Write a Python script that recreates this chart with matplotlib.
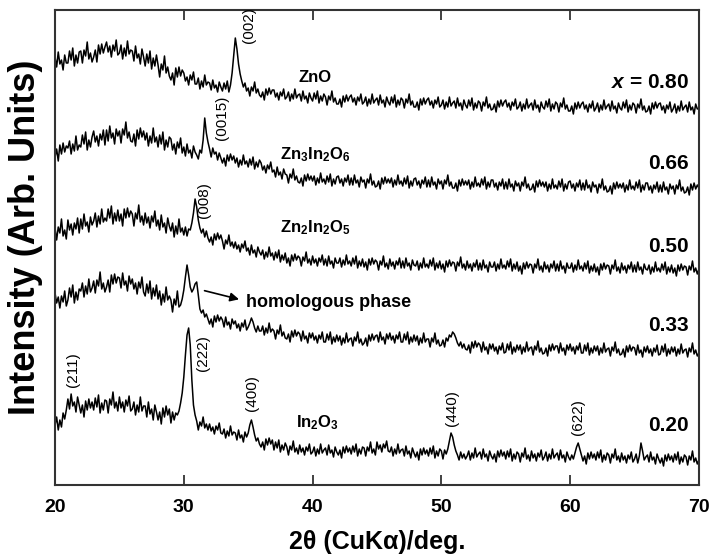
import numpy as np
import matplotlib.pyplot as plt

plt.rcParams['font.family'] = ['Liberation Sans', 'DejaVu Sans']
plt.rcParams['mathtext.fontset'] = 'custom'
plt.rcParams['mathtext.rm'] = 'Liberation Sans:bold'
plt.rcParams['mathtext.it'] = 'Liberation Sans:bold:italic'

# stacked XRD intensities (arb. units), 0.125 deg steps from 20 to 70 deg
x080 = [
    428, 418, 433, 421, 425, 415, 430, 422,
    422, 434, 425, 437, 419, 430, 422, 433,
    434, 422, 435, 429, 443, 426, 432, 423,
    428, 435, 423, 440, 431, 441, 432, 438,
    443, 433, 439, 428, 440, 434, 445, 430,
    432, 440, 426, 437, 429, 444, 431, 435,
    434, 424, 439, 427, 431, 421, 436, 428,
    419, 431, 422, 434, 416, 427, 419, 430,
    420, 408, 421, 415, 429, 412, 418, 409,
    405, 412, 400, 417, 408, 418, 409, 415,
    412, 404, 408, 400, 410, 405, 413, 401,
    401, 407, 396, 404, 398, 410, 400, 403,
    402, 395, 405, 397, 400, 393, 403, 398,
    394, 402, 396, 404, 393, 400, 412, 430,
    447, 436, 421, 411, 404, 398, 402, 394,
    397, 389, 398, 394, 403, 392, 396, 390,
    388, 393, 385, 396, 390, 397, 391, 395,
    395, 388, 392, 385, 393, 389, 396, 386,
    388, 393, 384, 391, 386, 396, 387, 390,
    391, 384, 394, 386, 389, 382, 392, 387,
    384, 392, 386, 394, 382, 389, 384, 391,
    388, 380, 389, 385, 394, 383, 387, 381,
    381, 386, 378, 389, 383, 390, 384, 388,
    390, 383, 387, 380, 388, 384, 391, 381,
    383, 388, 379, 386, 381, 391, 382, 385,
    387, 380, 390, 382, 385, 378, 388, 383,
    380, 388, 382, 390, 378, 385, 380, 387,
    385, 377, 386, 382, 391, 380, 384, 378,
    378, 383, 375, 386, 380, 387, 381, 385,
    387, 380, 384, 377, 385, 381, 388, 378,
    380, 385, 376, 383, 378, 388, 379, 382,
    384, 377, 387, 379, 382, 375, 385, 380,
    377, 385, 379, 387, 375, 382, 377, 384,
    382, 374, 383, 379, 388, 377, 381, 375,
    376, 381, 373, 384, 378, 385, 379, 383,
    385, 378, 382, 375, 383, 379, 386, 376,
    378, 383, 374, 381, 376, 386, 377, 380,
    382, 375, 385, 377, 380, 373, 383, 378,
    376, 384, 378, 386, 374, 381, 376, 383,
    381, 373, 382, 378, 387, 376, 380, 374,
    374, 379, 371, 382, 376, 383, 377, 381,
    383, 376, 380, 373, 381, 377, 384, 374,
    377, 382, 373, 380, 375, 385, 376, 379,
    381, 374, 384, 376, 379, 372, 382, 377,
    375, 383, 377, 385, 373, 380, 375, 382,
    380, 372, 381, 377, 386, 375, 379, 373,
    374, 379, 371, 382, 376, 383, 377, 381,
    382, 375, 379, 372, 380, 376, 383, 373,
    376, 381, 372, 379, 374, 384, 375, 378,
    380, 373, 383, 375, 378, 371, 381, 376,
    377,
]
x066 = [
    328, 336, 324, 340, 331, 342, 333, 339,
    337, 344, 331, 341, 334, 349, 335, 340,
    338, 350, 341, 353, 335, 345, 338, 348,
    354, 343, 349, 339, 351, 345, 355, 340,
    355, 344, 359, 347, 352, 341, 356, 349,
    354, 342, 356, 350, 363, 347, 353, 344,
    343, 351, 339, 355, 346, 357, 348, 354,
    345, 352, 339, 349, 342, 357, 343, 348,
    338, 350, 341, 353, 335, 345, 338, 348,
    346, 335, 341, 331, 343, 337, 347, 332,
    338, 329, 341, 332, 335, 327, 339, 333,
    330, 326, 335, 332, 345, 367, 352, 343,
    336, 328, 337, 331, 333, 325, 332, 327,
    322, 327, 319, 330, 324, 331, 325, 329,
    322, 327, 318, 325, 320, 330, 321, 324,
    318, 326, 320, 328, 316, 323, 318, 325,
    322, 315, 319, 312, 320, 316, 323, 313,
    315, 308, 318, 310, 313, 306, 316, 311,
    310, 302, 311, 307, 316, 305, 309, 303,
    302, 307, 299, 310, 304, 311, 305, 309,
    304, 309, 300, 307, 302, 312, 303, 306,
    301, 309, 303, 311, 299, 306, 301, 308,
    309, 302, 306, 299, 307, 303, 310, 300,
    307, 300, 310, 302, 305, 298, 308, 303,
    305, 297, 306, 302, 311, 300, 304, 298,
    299, 304, 296, 307, 301, 308, 302, 306,
    302, 307, 298, 305, 300, 310, 301, 304,
    299, 307, 301, 309, 297, 304, 299, 306,
    307, 300, 304, 297, 305, 301, 308, 298,
    305, 298, 308, 300, 303, 296, 306, 301,
    304, 296, 305, 301, 310, 299, 303, 297,
    297, 302, 294, 305, 299, 306, 300, 304,
    300, 305, 296, 303, 298, 308, 299, 302,
    298, 306, 300, 308, 296, 303, 298, 305,
    305, 298, 302, 295, 303, 299, 306, 296,
    303, 296, 306, 298, 301, 294, 304, 299,
    302, 294, 303, 299, 308, 297, 301, 295,
    296, 301, 293, 304, 298, 305, 299, 303,
    298, 303, 294, 301, 296, 306, 297, 300,
    296, 304, 298, 306, 294, 301, 296, 303,
    304, 297, 301, 294, 302, 298, 305, 295,
    302, 295, 305, 297, 300, 293, 303, 298,
    300, 292, 301, 297, 306, 295, 299, 293,
    294, 299, 291, 302, 296, 303, 297, 301,
    297, 302, 293, 300, 295, 305, 296, 299,
    295, 303, 297, 305, 293, 300, 295, 302,
    302, 295, 299, 292, 300, 296, 303, 293,
    300, 293, 303, 295, 298, 291, 301, 296,
    299, 291, 300, 296, 305, 294, 298, 292,
    293, 298, 290, 301, 295, 302, 296, 300,
    297,
]
x050 = [
    257, 245, 258, 252, 266, 249, 255, 246,
    265, 255, 261, 250, 262, 256, 267, 252,
    266, 256, 271, 259, 263, 253, 268, 260,
    264, 272, 258, 269, 261, 276, 263, 267,
    264, 276, 267, 279, 261, 272, 264, 275,
    264, 271, 259, 276, 267, 277, 268, 274,
    271, 259, 272, 266, 280, 263, 269, 260,
    272, 262, 268, 257, 269, 263, 274, 259,
    265, 255, 270, 258, 262, 252, 267, 259,
    254, 262, 248, 259, 251, 266, 253, 257,
    250, 258, 249, 256, 255, 262, 272, 286,
    278, 265, 257, 252, 256, 248, 254, 247,
    243, 248, 240, 251, 245, 252, 246, 250,
    244, 236, 245, 241, 250, 239, 243, 237,
    243, 236, 240, 233, 241, 237, 244, 234,
    237, 230, 240, 232, 235, 228, 238, 233,
    230, 235, 226, 233, 228, 238, 229, 232,
    225, 233, 227, 235, 223, 230, 225, 232,
    222, 227, 219, 230, 224, 231, 225, 229,
    227, 219, 228, 224, 233, 222, 226, 220,
    229, 222, 226, 219, 227, 223, 230, 220,
    226, 219, 229, 221, 224, 217, 227, 222,
    222, 227, 218, 225, 220, 230, 221, 224,
    219, 227, 221, 229, 217, 224, 219, 226,
    218, 223, 215, 226, 220, 227, 221, 225,
    223, 215, 224, 220, 229, 218, 222, 216,
    226, 219, 223, 216, 224, 220, 227, 217,
    224, 217, 227, 219, 222, 215, 225, 220,
    219, 224, 215, 222, 217, 227, 218, 221,
    217, 225, 219, 227, 215, 222, 217, 224,
    216, 221, 213, 224, 218, 225, 219, 223,
    222, 214, 223, 219, 228, 217, 221, 215,
    224, 217, 221, 214, 222, 218, 225, 215,
    222, 215, 225, 217, 220, 213, 223, 218,
    218, 223, 214, 221, 216, 226, 217, 220,
    216, 224, 218, 226, 214, 221, 216, 223,
    214, 219, 211, 222, 216, 223, 217, 221,
    220, 212, 221, 217, 226, 215, 219, 213,
    223, 216, 220, 213, 221, 217, 224, 214,
    221, 214, 224, 216, 219, 212, 222, 217,
    217, 222, 213, 220, 215, 225, 216, 219,
    214, 222, 216, 224, 212, 219, 214, 221,
    213, 218, 210, 221, 215, 222, 216, 220,
    219, 211, 220, 216, 225, 214, 218, 212,
    222, 215, 219, 212, 220, 216, 223, 213,
    220, 213, 223, 215, 218, 211, 221, 216,
    215, 220, 211, 218, 213, 223, 214, 217,
    213, 221, 215, 223, 211, 218, 213, 220,
    212, 217, 209, 220, 214, 221, 215, 219,
    218, 210, 219, 215, 224, 213, 217, 211,
    216,
]
x033 = [
    192, 182, 188, 177, 189, 183, 194, 179,
    185, 197, 188, 200, 182, 193, 185, 196,
    194, 202, 188, 199, 191, 206, 193, 197,
    204, 192, 205, 199, 213, 196, 202, 193,
    198, 205, 193, 210, 201, 211, 202, 208,
    207, 197, 212, 200, 204, 194, 209, 201,
    206, 196, 202, 191, 203, 197, 208, 193,
    189, 201, 192, 204, 186, 197, 189, 200,
    186, 194, 180, 191, 183, 198, 185, 189,
    185, 173, 186, 180, 194, 178, 180, 186,
    195, 208, 220, 210, 198, 193, 196, 201,
    203, 190, 176, 172, 175, 168, 171, 166,
    161, 166, 158, 169, 163, 170, 164, 168,
    165, 158, 168, 160, 163, 156, 166, 161,
    164, 157, 161, 154, 162, 158, 165, 155,
    158, 162, 167, 163, 157, 153, 159, 154,
    154, 159, 150, 157, 152, 162, 153, 156,
    154, 146, 155, 151, 160, 149, 153, 147,
    146, 151, 143, 154, 148, 155, 149, 153,
    151, 144, 154, 146, 149, 142, 152, 147,
    152, 145, 149, 142, 150, 146, 153, 143,
    143, 151, 145, 153, 141, 148, 143, 150,
    144, 149, 140, 147, 142, 152, 143, 146,
    147, 139, 148, 144, 153, 142, 146, 140,
    142, 147, 139, 150, 144, 151, 145, 149,
    150, 143, 153, 145, 148, 141, 151, 146,
    152, 145, 149, 142, 150, 146, 153, 143,
    143, 151, 145, 153, 141, 148, 143, 150,
    144, 149, 140, 147, 142, 152, 143, 146,
    146, 138, 147, 143, 152, 141, 145, 139,
    140, 145, 138, 147, 144, 150, 148, 153,
    151, 147, 142, 139, 143, 137, 141, 136,
    135, 140, 132, 143, 137, 144, 138, 142,
    140, 133, 143, 135, 138, 131, 141, 136,
    141, 134, 138, 131, 139, 135, 142, 132,
    133, 141, 135, 143, 131, 138, 133, 140,
    135, 140, 131, 138, 133, 143, 134, 137,
    138, 130, 139, 135, 144, 133, 137, 131,
    132, 137, 129, 140, 134, 141, 135, 139,
    139, 132, 142, 134, 137, 130, 140, 135,
    141, 134, 138, 131, 139, 135, 142, 132,
    132, 140, 134, 142, 130, 137, 132, 139,
    134, 139, 130, 137, 132, 142, 133, 136,
    137, 129, 138, 134, 143, 132, 136, 130,
    131, 136, 128, 139, 133, 140, 134, 138,
    137, 130, 140, 132, 135, 128, 138, 133,
    139, 132, 136, 129, 137, 133, 140, 130,
    131, 139, 133, 141, 129, 136, 131, 138,
    133, 138, 129, 136, 131, 141, 132, 135,
    136, 128, 137, 133, 142, 131, 135, 129,
    132,
]
x020 = [
    60, 68, 55, 65, 58, 72, 66, 75,
    86, 76, 91, 79, 83, 73, 88, 80,
    72, 80, 68, 84, 75, 86, 77, 83,
    75, 87, 78, 90, 72, 82, 75, 85,
    84, 72, 86, 80, 93, 77, 83, 74,
    88, 77, 83, 73, 85, 79, 89, 74,
    76, 83, 70, 80, 73, 88, 74, 79,
    79, 68, 83, 71, 76, 65, 80, 73,
    65, 73, 61, 77, 68, 79, 70, 76,
    62, 73, 65, 72, 70, 74, 82, 92,
    108, 130, 150, 157, 140, 105, 80, 70,
    64, 55, 63, 59, 68, 57, 61, 55,
    61, 54, 58, 51, 59, 55, 62, 52,
    51, 56, 47, 54, 49, 59, 50, 53,
    52, 45, 55, 47, 50, 43, 53, 48,
    52, 60, 65, 58, 50, 44, 47, 41,
    38, 43, 35, 46, 40, 47, 41, 45,
    35, 43, 37, 45, 33, 40, 35, 42,
    38, 30, 39, 35, 44, 33, 37, 31,
    40, 33, 37, 30, 38, 34, 41, 31,
    33, 38, 29, 36, 31, 41, 32, 35,
    37, 30, 40, 32, 35, 28, 38, 33,
    30, 35, 27, 38, 32, 39, 33, 37,
    31, 39, 33, 41, 29, 36, 31, 38,
    37, 29, 38, 34, 43, 32, 36, 30,
    43, 36, 40, 33, 41, 37, 44, 34,
    33, 38, 29, 36, 31, 41, 32, 35,
    36, 29, 39, 31, 34, 27, 37, 32,
    28, 33, 25, 36, 30, 37, 31, 35,
    29, 37, 31, 39, 27, 34, 29, 36,
    34, 26, 35, 31, 36, 44, 52, 48,
    40, 34, 30, 25, 33, 27, 31, 26,
    29, 34, 25, 32, 27, 37, 28, 31,
    33, 26, 36, 28, 31, 24, 34, 29,
    26, 31, 23, 34, 28, 35, 29, 33,
    26, 34, 28, 36, 24, 31, 26, 33,
    31, 23, 32, 28, 37, 26, 30, 24,
    34, 27, 31, 24, 32, 28, 35, 25,
    28, 33, 24, 31, 26, 36, 27, 30,
    32, 25, 35, 27, 30, 23, 33, 28,
    25, 30, 26, 32, 38, 42, 36, 30,
    24, 29, 21, 32, 26, 33, 27, 31,
    25, 33, 27, 35, 23, 30, 25, 32,
    30, 22, 31, 27, 36, 25, 29, 23,
    32, 25, 29, 22, 30, 26, 33, 23,
    26, 31, 22, 29, 42, 34, 25, 28,
    30, 23, 33, 25, 28, 21, 31, 26,
    22, 27, 19, 30, 24, 31, 25, 29,
    23, 31, 25, 33, 21, 28, 23, 30,
    28, 20, 29, 25, 34, 23, 27, 21,
    25,
]

patterns = [x080, x066, x050, x033, x020]
comp_labels = ['$x$ = 0.80', '0.66', '0.50', '0.33', '0.20']
comp_y = [403, 322, 239, 160, 59]

# reflection indices and phase names
hkl = [('(002)', 35.1, 460), ('(0015)', 33.0, 367), ('(008)', 31.6, 285),
       ('(211)', 21.4, 115), ('(222)', 31.5, 132), ('(400)', 35.3, 92),
       ('(440)', 50.8, 77), ('(622)', 60.6, 68)]
phases = [('ZnO', 40.2, 408), (r'$\mathrm{Zn_3In_2O_6}$', 40.2, 330),
          (r'$\mathrm{Zn_2In_2O_5}$', 40.2, 257), (r'$\mathrm{In_2O_3}$', 40.4, 62)]

fig = plt.figure(figsize=(7.11, 5.56), dpi=100)
ax = fig.add_axes([0.0774, 0.1277, 0.9056, 0.8543])

for y in patterns:
    ax.plot(np.linspace(20, 70, len(y)), y, color='black', linewidth=1.1)

for lab, yy in zip(comp_labels, comp_y):
    ax.text(69.2, yy, lab, ha='right', va='center', fontsize=15, fontweight='bold')

for lab, xx, yy in hkl:
    ax.text(xx, yy, lab, rotation=90, ha='center', va='center', fontsize=11)

for lab, xx, yy in phases:
    ax.text(xx, yy, lab, ha='center', va='center', fontsize=12, fontweight='bold')

ax.annotate('', xy=(34.5, 185), xytext=(31.4, 195),
            arrowprops=dict(arrowstyle='-|>', color='black', lw=1.2, mutation_scale=13))
ax.text(34.8, 183, 'homologous phase', ha='left', va='center', fontsize=13, fontweight='bold')

ax.set_xlim(20, 70)
ax.set_ylim(0, 475)
ax.set_xticks([20, 30, 40, 50, 60, 70])
ax.set_yticks([])
ax.tick_params(axis='x', direction='in', top=True, length=7, width=1.3, color='#333333',
               labelsize=14, pad=10)
for lbl in ax.get_xticklabels():
    lbl.set_fontweight('bold')
for sp in ax.spines.values():
    sp.set_color('#333333')
    sp.set_linewidth(1.5)

ax.set_xlabel('2θ (CuKα)/deg.', fontsize=18, fontweight='bold', labelpad=10)
ax.set_ylabel('Intensity (Arb. Units)', fontsize=26, fontweight='bold')
ax.yaxis.set_label_coords(-0.018, 0.522)

fig.savefig('out.png', dpi=100)
